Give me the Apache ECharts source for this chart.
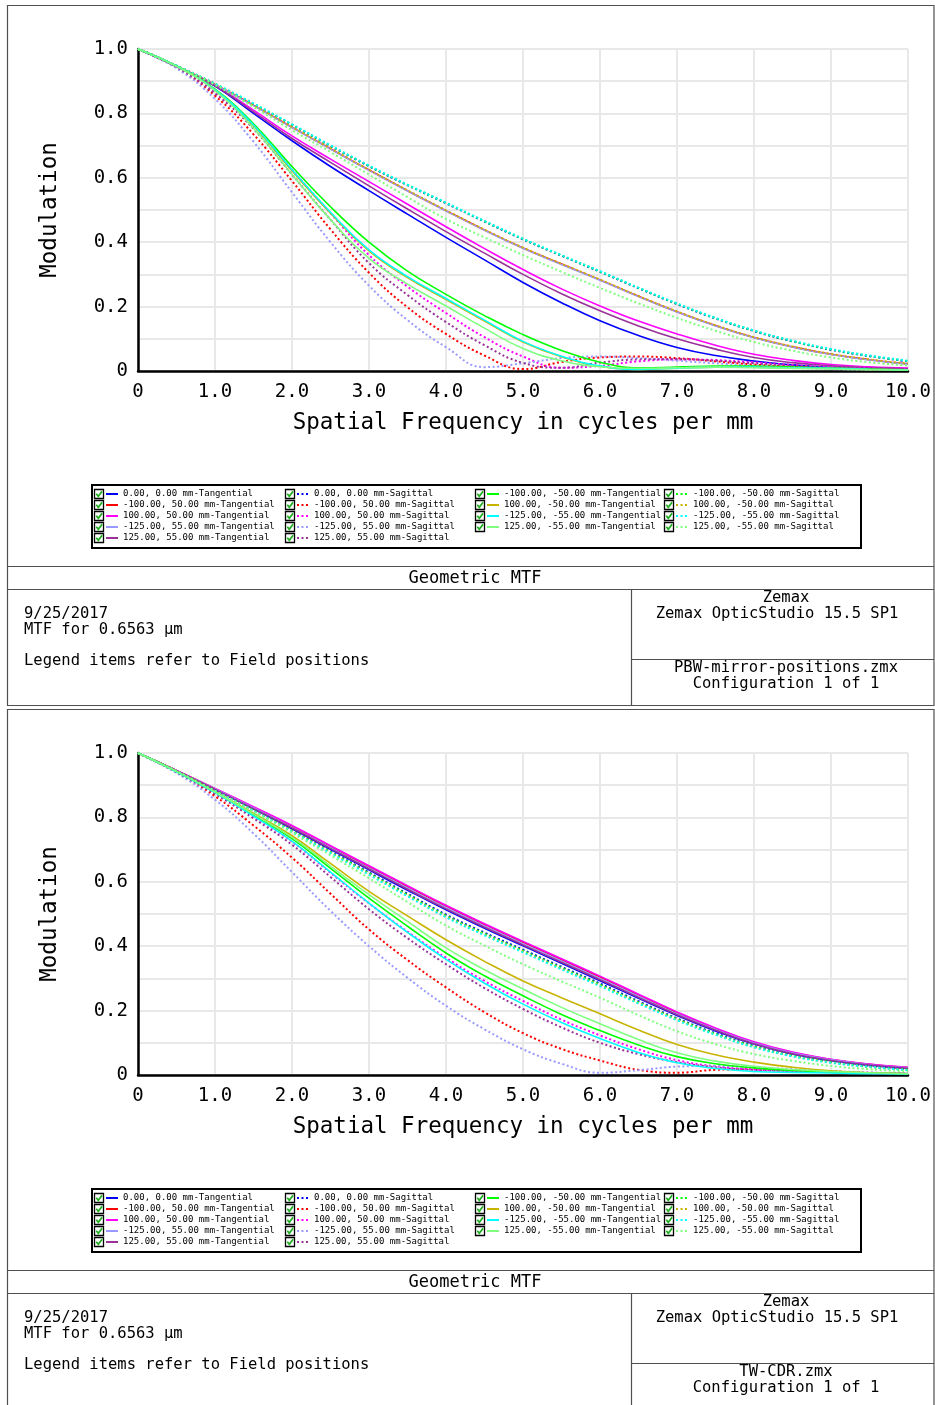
<!DOCTYPE html>
<html>
<head>
<meta charset="utf-8">
<title>Geometric MTF</title>
<script src="https://cdn.jsdelivr.net/npm/echarts@6/dist/echarts.min.js"></script>
<style>
  html, body { margin: 0; padding: 0; background: #fff; }
  #main { width: 935px; height: 1405px; }
</style>
</head>
<body>
<div id="main"></div>
<script>
// spatial frequency samples (cycles per mm)
const freq = [0, 0.5, 1, 1.5, 2, 2.5, 3, 3.5, 4, 4.5, 5, 5.5, 6, 6.5, 7, 7.5, 8, 8.5, 9, 9.5, 10];

// legend entries, in legend order (4 columns: 5, 5, 4, 4)
const fieldNames = [
  '0.00, 0.00 mm-Tangential', '-100.00, 50.00 mm-Tangential', '100.00, 50.00 mm-Tangential',
  '-125.00, 55.00 mm-Tangential', '125.00, 55.00 mm-Tangential',
  '0.00, 0.00 mm-Sagittal', '-100.00, 50.00 mm-Sagittal', '100.00, 50.00 mm-Sagittal',
  '-125.00, 55.00 mm-Sagittal', '125.00, 55.00 mm-Sagittal',
  '-100.00, -50.00 mm-Tangential', '100.00, -50.00 mm-Tangential',
  '-125.00, -55.00 mm-Tangential', '125.00, -55.00 mm-Tangential',
  '-100.00, -50.00 mm-Sagittal', '100.00, -50.00 mm-Sagittal',
  '-125.00, -55.00 mm-Sagittal', '125.00, -55.00 mm-Sagittal'
];
const fieldColors = [
  '#0000ff', '#ff0000', '#ff00ff', '#9999ff', '#993399',
  '#0000ff', '#ff0000', '#ff00ff', '#9999ff', '#993399',
  '#00ff00', '#c8b400', '#00ffff', '#80ff80',
  '#00ff00', '#c8b400', '#00ffff', '#80ff80'
];
const fieldDotted = [0, 0, 0, 0, 0, 1, 1, 1, 1, 1, 0, 0, 0, 0, 1, 1, 1, 1];

// ---- upper chart: PBW-mirror-positions.zmx ----
const topBlueT    = [1, 0.945, 0.885, 0.8, 0.715, 0.635, 0.56, 0.487, 0.415, 0.345, 0.275, 0.212, 0.156, 0.11, 0.073, 0.048, 0.031, 0.019, 0.011, 0.007, 0.005];
const topRedT     = [1, 0.947, 0.89, 0.825, 0.757, 0.69, 0.624, 0.56, 0.498, 0.438, 0.382, 0.332, 0.283, 0.232, 0.184, 0.141, 0.104, 0.075, 0.052, 0.035, 0.022];
const topMagentaT = [1, 0.946, 0.887, 0.81, 0.73, 0.658, 0.588, 0.518, 0.448, 0.38, 0.315, 0.255, 0.202, 0.155, 0.115, 0.08, 0.052, 0.033, 0.02, 0.013, 0.009];
const topLavT     = [1, 0.947, 0.889, 0.824, 0.756, 0.689, 0.623, 0.559, 0.497, 0.437, 0.381, 0.331, 0.282, 0.231, 0.183, 0.14, 0.103, 0.074, 0.051, 0.034, 0.021];
const topPurpleT  = [1, 0.946, 0.886, 0.805, 0.722, 0.648, 0.575, 0.503, 0.433, 0.366, 0.3, 0.24, 0.187, 0.14, 0.1, 0.068, 0.042, 0.026, 0.016, 0.01, 0.007];
const topBlueS    = [1, 0.948, 0.891, 0.829, 0.764, 0.699, 0.636, 0.577, 0.521, 0.464, 0.409, 0.358, 0.308, 0.257, 0.208, 0.163, 0.124, 0.092, 0.066, 0.046, 0.03];
const topRedS     = [1, 0.943, 0.855, 0.735, 0.59, 0.44, 0.305, 0.198, 0.115, 0.048, 0.006, 0.028, 0.042, 0.045, 0.04, 0.03, 0.02, 0.013, 0.008, 0.005, 0.003];
const topMagentaS = [1, 0.946, 0.866, 0.762, 0.625, 0.49, 0.36, 0.262, 0.18, 0.105, 0.045, 0.01, 0.016, 0.03, 0.036, 0.034, 0.027, 0.019, 0.012, 0.008, 0.005];
const topLavS     = [1, 0.94, 0.845, 0.712, 0.555, 0.4, 0.265, 0.158, 0.074, 0.012, 0.024, 0.04, 0.045, 0.04, 0.032, 0.024, 0.016, 0.01, 0.006, 0.004, 0.003];
const topPurpleS  = [1, 0.945, 0.862, 0.752, 0.61, 0.47, 0.335, 0.236, 0.152, 0.08, 0.025, 0.01, 0.026, 0.036, 0.037, 0.032, 0.024, 0.016, 0.01, 0.006, 0.004];
const topGreenT   = [1, 0.947, 0.875, 0.768, 0.635, 0.51, 0.4, 0.31, 0.238, 0.172, 0.113, 0.064, 0.027, 0.01, 0.012, 0.015, 0.015, 0.012, 0.009, 0.006, 0.004];
const topOliveT   = [1, 0.947, 0.873, 0.762, 0.622, 0.49, 0.373, 0.29, 0.222, 0.155, 0.09, 0.044, 0.015, 0.005, 0.009, 0.012, 0.012, 0.01, 0.008, 0.005, 0.003];
const topCyanT    = [1, 0.947, 0.873, 0.764, 0.625, 0.493, 0.376, 0.293, 0.225, 0.158, 0.092, 0.046, 0.016, 0.005, 0.009, 0.012, 0.012, 0.01, 0.008, 0.005, 0.003];
const topLgreenT  = [1, 0.946, 0.87, 0.754, 0.61, 0.47, 0.35, 0.27, 0.202, 0.133, 0.07, 0.032, 0.013, 0.008, 0.01, 0.012, 0.01, 0.008, 0.006, 0.004, 0.003];
const topGreenS   = [1, 0.948, 0.892, 0.83, 0.765, 0.7, 0.637, 0.578, 0.522, 0.465, 0.41, 0.359, 0.309, 0.258, 0.209, 0.164, 0.125, 0.093, 0.067, 0.047, 0.031];
const topOliveS   = [1, 0.947, 0.89, 0.825, 0.758, 0.691, 0.625, 0.561, 0.499, 0.439, 0.383, 0.333, 0.284, 0.233, 0.185, 0.142, 0.105, 0.076, 0.053, 0.036, 0.023];
const topCyanS    = [1, 0.948, 0.892, 0.831, 0.766, 0.701, 0.638, 0.579, 0.523, 0.466, 0.411, 0.36, 0.31, 0.259, 0.21, 0.165, 0.126, 0.094, 0.068, 0.048, 0.032];
const topLgreenS  = [1, 0.947, 0.889, 0.82, 0.748, 0.68, 0.61, 0.54, 0.472, 0.415, 0.36, 0.308, 0.258, 0.21, 0.165, 0.125, 0.09, 0.063, 0.042, 0.027, 0.017];

// ---- lower chart: TW-CDR.zmx ----
const botBlueT    = [1, 0.945, 0.886, 0.826, 0.765, 0.701, 0.637, 0.574, 0.513, 0.456, 0.401, 0.347, 0.293, 0.238, 0.185, 0.137, 0.096, 0.065, 0.044, 0.03, 0.02];
const botRedT     = [1, 0.946, 0.889, 0.831, 0.772, 0.709, 0.647, 0.585, 0.524, 0.467, 0.412, 0.358, 0.304, 0.248, 0.193, 0.144, 0.101, 0.07, 0.048, 0.033, 0.023];
const botMagentaT = [1, 0.946, 0.89, 0.833, 0.775, 0.712, 0.65, 0.588, 0.527, 0.47, 0.415, 0.361, 0.307, 0.251, 0.196, 0.146, 0.103, 0.071, 0.049, 0.034, 0.024];
const botLavT     = [1, 0.945, 0.888, 0.829, 0.769, 0.706, 0.643, 0.581, 0.52, 0.463, 0.408, 0.354, 0.3, 0.245, 0.19, 0.141, 0.099, 0.068, 0.047, 0.032, 0.022];
const botPurpleT  = [1, 0.945, 0.887, 0.827, 0.767, 0.703, 0.64, 0.577, 0.516, 0.459, 0.404, 0.35, 0.296, 0.241, 0.187, 0.139, 0.097, 0.066, 0.045, 0.031, 0.021];
const botBlueS    = [1, 0.944, 0.884, 0.823, 0.761, 0.695, 0.629, 0.563, 0.498, 0.442, 0.389, 0.336, 0.284, 0.229, 0.176, 0.13, 0.09, 0.061, 0.041, 0.027, 0.017];
const botRedS     = [1, 0.94, 0.866, 0.775, 0.675, 0.563, 0.452, 0.357, 0.272, 0.195, 0.13, 0.081, 0.045, 0.016, 0.007, 0.016, 0.018, 0.015, 0.011, 0.007, 0.005];
const botMagentaS = [1, 0.942, 0.876, 0.803, 0.725, 0.628, 0.533, 0.445, 0.364, 0.292, 0.23, 0.172, 0.123, 0.08, 0.046, 0.027, 0.017, 0.012, 0.009, 0.006, 0.004];
const botLavS     = [1, 0.938, 0.855, 0.75, 0.63, 0.51, 0.4, 0.302, 0.215, 0.142, 0.08, 0.035, 0.007, 0.015, 0.026, 0.028, 0.024, 0.018, 0.012, 0.008, 0.005];
const botPurpleS  = [1, 0.941, 0.873, 0.797, 0.715, 0.615, 0.515, 0.425, 0.344, 0.27, 0.205, 0.148, 0.1, 0.065, 0.04, 0.024, 0.016, 0.012, 0.009, 0.006, 0.004];
const botGreenT   = [1, 0.942, 0.878, 0.808, 0.734, 0.642, 0.549, 0.462, 0.379, 0.308, 0.246, 0.188, 0.138, 0.093, 0.057, 0.035, 0.022, 0.014, 0.009, 0.006, 0.004];
const botOliveT   = [1, 0.943, 0.88, 0.813, 0.743, 0.657, 0.57, 0.494, 0.42, 0.353, 0.292, 0.24, 0.19, 0.14, 0.095, 0.063, 0.04, 0.024, 0.013, 0.007, 0.004];
const botCyanT    = [1, 0.942, 0.877, 0.804, 0.726, 0.63, 0.534, 0.443, 0.359, 0.285, 0.22, 0.163, 0.113, 0.07, 0.038, 0.02, 0.011, 0.008, 0.006, 0.004, 0.003];
const botLgreenT  = [1, 0.943, 0.879, 0.81, 0.738, 0.649, 0.56, 0.477, 0.395, 0.327, 0.267, 0.21, 0.159, 0.11, 0.069, 0.043, 0.027, 0.017, 0.011, 0.007, 0.004];
const botGreenS   = [1, 0.944, 0.883, 0.822, 0.759, 0.693, 0.627, 0.56, 0.495, 0.439, 0.386, 0.333, 0.281, 0.226, 0.174, 0.128, 0.089, 0.06, 0.04, 0.026, 0.016];
const botOliveS   = [1, 0.944, 0.883, 0.821, 0.758, 0.691, 0.624, 0.557, 0.492, 0.436, 0.383, 0.33, 0.278, 0.224, 0.172, 0.126, 0.087, 0.059, 0.039, 0.025, 0.016];
const botCyanS    = [1, 0.943, 0.882, 0.82, 0.756, 0.689, 0.622, 0.555, 0.49, 0.434, 0.381, 0.328, 0.276, 0.222, 0.17, 0.125, 0.086, 0.058, 0.038, 0.025, 0.015];
const botLgreenS  = [1, 0.943, 0.881, 0.817, 0.752, 0.682, 0.611, 0.537, 0.464, 0.402, 0.344, 0.291, 0.24, 0.186, 0.136, 0.096, 0.065, 0.044, 0.028, 0.018, 0.011];

const topValues = [topBlueT, topRedT, topMagentaT, topLavT, topPurpleT,
  topBlueS, topRedS, topMagentaS, topLavS, topPurpleS,
  topGreenT, topOliveT, topCyanT, topLgreenT,
  topGreenS, topOliveS, topCyanS, topLgreenS];
const botValues = [botBlueT, botRedT, botMagentaT, botLavT, botPurpleT,
  botBlueS, botRedS, botMagentaS, botLavS, botPurpleS,
  botGreenT, botOliveT, botCyanT, botLgreenT,
  botGreenS, botOliveS, botCyanS, botLgreenS];

const lensFiles = ['PBW-mirror-positions.zmx', 'TW-CDR.zmx'];

const MONO = '"DejaVu Sans Mono", "Liberation Mono", monospace';
const PANEL_DY = 704;
const legendCols = [[0, 5], [5, 10], [10, 14], [14, 18]];
const legendLefts = [105, 296, 486, 675];

const chart = echarts.init(document.getElementById('main'), null, { renderer: 'canvas' });

function yLabel(v) {
  const t = Math.round(v * 10);
  if (t % 2) return '';
  return t === 0 ? '0' : (t / 10).toFixed(1);
}

const grids = [], xAxes = [], yAxes = [], series = [], legends = [], graphics = [];

[topValues, botValues].forEach((vals, gi) => {
  const dy = gi * PANEL_DY;
  grids.push({ left: 138, top: 49 + dy, width: 770, height: 322 });
  xAxes.push({
    gridIndex: gi, type: 'value', min: 0, max: 10, interval: 1,
    name: 'Spatial Frequency in cycles per mm', nameLocation: 'middle', nameGap: 41,
    nameTextStyle: { fontFamily: MONO, fontSize: 22.5, color: '#000' },
    axisLine: { lineStyle: { color: '#000', width: 2.5 } },
    axisTick: { show: false },
    axisLabel: { fontFamily: MONO, fontSize: 19, color: '#000', margin: 12,
      formatter: v => v === 0 ? '0' : v.toFixed(1) },
    splitLine: { show: true, lineStyle: { color: '#e8e8e8', width: 2 } }
  });
  yAxes.push({
    gridIndex: gi, type: 'value', min: 0, max: 1, interval: 0.1,
    name: 'Modulation', nameLocation: 'middle', nameGap: 76,
    nameTextStyle: { fontFamily: MONO, fontSize: 22.5, color: '#000' },
    axisLine: { show: true, lineStyle: { color: '#000', width: 2.5 } },
    axisTick: { show: false },
    axisLabel: { fontFamily: MONO, fontSize: 19, color: '#000', margin: 10, formatter: yLabel },
    splitLine: { show: true, lineStyle: { color: '#e8e8e8', width: 2 } }
  });

  fieldNames.forEach((name, i) => {
    series.push({
      name, type: 'line', xAxisIndex: gi, yAxisIndex: gi,
      data: freq.map((f, k) => [f, vals[i][k]]),
      smooth: 0.45, symbol: 'none', silent: true,
      lineStyle: { color: fieldColors[i], width: fieldDotted[i] ? 2 : 1.6,
        type: fieldDotted[i] ? [2, 2.5] : 'solid' },
      itemStyle: { color: fieldColors[i] }
    });
  });

  // legend, one component per column
  legendCols.forEach(([a, b], c) => {
    legends.push({
      data: fieldNames.slice(a, b), orient: 'vertical', left: legendLefts[c], top: 488.5 + dy,
      itemWidth: 12, itemHeight: 6, itemGap: 0, padding: 0, selectedMode: false,
      itemStyle: { opacity: 0 },
      textStyle: { fontFamily: MONO, fontSize: 9, lineHeight: 11, color: '#000' }
    });
    for (let r = 0; r < b - a; r++) {
      const cx = legendLefts[c] - 10.5, cy = 494 + dy + r * 11 - 4.5;
      graphics.push({ type: 'rect', shape: { x: cx, y: cy, width: 9, height: 9 },
        style: { fill: '#fff', stroke: '#000', lineWidth: 1.3 }, silent: true });
      graphics.push({ type: 'polyline', shape: { points: [[cx + 1.8, cy + 4.3], [cx + 3.8, cy + 6.8], [cx + 7.6, cy + 1.8]] },
        style: { fill: null, stroke: '#22b022', lineWidth: 1.8 }, silent: true });
    }
  });

  // legend frame
  graphics.push({ type: 'rect', shape: { x: 92, y: 485 + dy, width: 769, height: 63 },
    style: { fill: null, stroke: '#000', lineWidth: 2 }, silent: true, z: -1 });

  // panel frame and info box
  const frame = '#505050';
  graphics.push({ type: 'rect', shape: { x: 7.5, y: 5.5 + dy, width: 926.5, height: 700 },
    style: { fill: null, stroke: frame, lineWidth: 1.2 }, silent: true });
  [[7.5, 566.5, 934, 566.5], [7.5, 589.5, 934, 589.5], [631.5, 589.5, 631.5, 705.5], [631.5, 659.5, 934, 659.5]]
    .forEach(([x1, y1, x2, y2]) => graphics.push({ type: 'line',
      shape: { x1, y1: y1 + dy, x2, y2: y2 + dy },
      style: { stroke: frame, lineWidth: 1.2 }, silent: true }));

  const txt = (text, x, y, align, size) => graphics.push({ type: 'text', x, y: y + dy, silent: true,
    style: { text, font: (size || 15.5) + 'px ' + MONO, fill: '#000',
      align, verticalAlign: 'middle', textAlign: align, textVerticalAlign: 'middle' } });
  txt('Geometric MTF', 475, 579, 'center', 17);
  txt('9/25/2017', 24, 614, 'left');
  txt('MTF for 0.6563 µm', 24, 630, 'left');
  txt('Legend items refer to Field positions', 24, 661, 'left');
  txt('Zemax', 786, 598, 'center');
  txt('Zemax OpticStudio 15.5 SP1', 777, 614, 'center');
  txt(lensFiles[gi], 786, 668, 'center');
  txt('Configuration 1 of 1', 786, 684, 'center');
});

chart.setOption({
  animation: false,
  backgroundColor: '#fff',
  grid: grids, xAxis: xAxes, yAxis: yAxes,
  legend: legends, series: series, graphic: graphics
});
</script>
</body>
</html>
